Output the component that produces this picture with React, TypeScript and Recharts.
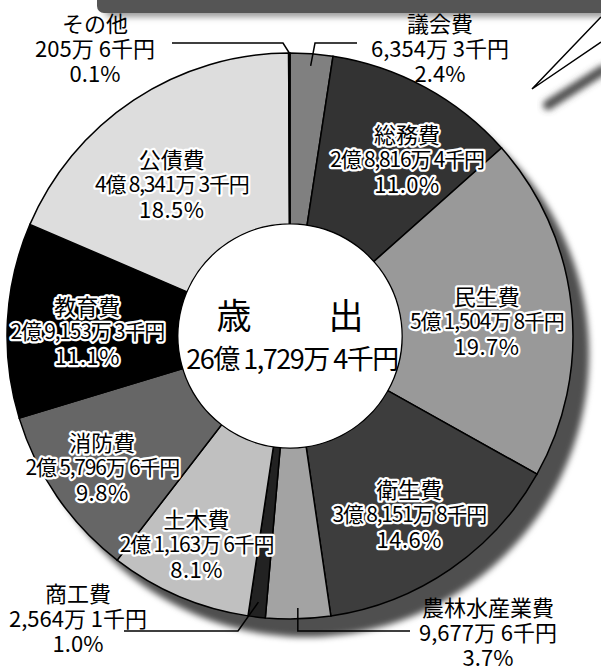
import React from 'react';
import { PieChart, Pie, Cell } from 'recharts';

// 歳出の内訳（単位：千円）
const categories = ['議会費', '総務費', '民生費', '衛生費', '農林水産業費', '商工費', '土木費', '消防費', '教育費', '公債費', 'その他'];
const amounts = [63543, 288164, 515048, 381518, 96776, 25641, 211636, 257966, 291533, 483413, 2056];
const percents = [2.4, 11.0, 19.7, 14.6, 3.7, 1.0, 8.1, 9.8, 11.1, 18.5, 0.1];
const centerTitle = ['歳', '出'];

const colors = ['#808080', '#333333', '#999999', '#3d3d3d', '#a3a3a3', '#222222', '#c0c0c0', '#666666', '#000000', '#dddddd', '#111111'];

const W = 601;
const H = 671;
const CX = 290;
const CY = 336;
const R_IN = 112;
const R_OUT = 283;
const RAD = Math.PI / 180;
const FONT = '"Noto Sans CJK JP", "Noto Sans", sans-serif';

const data = categories.map((name, i) => ({ name, value: amounts[i], pct: percents[i] }));
const total = amounts.reduce((a, b) => a + b, 0);

// 千円単位の数値を「○億 ○万 ○千円」に
const fmtYen = (v: number) => {
  const oku = Math.floor(v / 100000);
  const man = Math.floor((v % 100000) / 10);
  const sen = v % 10;
  return (oku ? `${oku}億 ` : '') + (man ? `${man.toLocaleString('ja-JP')}万 ` : '') + `${sen}千円`;
};

// 内側ラベルの微調整
const innerNudge: Record<string, [number, number]> = {
  '総務費': [19, 2],
  '民生費': [-7, 6],
  '衛生費': [3, 8],
  '土木費': [-13, 18],
  '消防費': [-19, 14],
  '教育費': [2, 5],
  '公債費': [-5, 18],
};

// 外側ラベル（引き出し線つき）
const outside: Record<string, { r: number; elbow: [number | null, number]; end: [number, number]; tx: number; ty: number }> = {
  'その他': { r: 283, elbow: [-7, -293], end: [-118, -293], tx: -195, ty: -314 },
  '議会費': { r: 271, elbow: [25, -293], end: [67, -293], tx: 150, ty: -314 },
  '商工費': { r: 268, elbow: [-52, 295], end: [-166, 295], tx: -212, ty: 256 },
  '農林水産業費': { r: 272, elbow: [null, 295], end: [120, 295], tx: 198, ty: 270 },
};

const lineStyle = [
  { fontSize: 22, letterSpacing: 0 },
  { fontSize: 21, letterSpacing: -1.2 },
  { fontSize: 22, letterSpacing: 0.5 },
];

const renderLabel = (props: any) => {
  const { cx, cy, midAngle, index } = props;
  const d = data[index];
  const lines = [d.name, fmtYen(d.value), `${d.pct.toFixed(1)}%`];
  const o = outside[d.name];
  if (o) {
    const sx = cx + o.r * Math.cos(-midAngle * RAD);
    const sy = cy + o.r * Math.sin(-midAngle * RAD);
    const ex = o.elbow[0] == null ? sx : cx + o.elbow[0];
    const ey = cy + o.elbow[1];
    const pts = `${sx},${sy} ${ex},${ey} ${cx + o.end[0]},${cy + o.end[1]}`;
    return (
      <g key={`lbl-${index}`}>
        <polyline points={pts} fill="none" stroke="#000" strokeWidth={1.5} />
        <text fontFamily={FONT} fontSize={22} fill="#000" textAnchor="middle" dominantBaseline="central">
          {lines.map((t, k) => (
            <tspan key={k} x={cx + o.tx} y={cy + o.ty + k * 25}>{t}</tspan>
          ))}
        </text>
      </g>
    );
  }
  const r = 205;
  const nudge = innerNudge[d.name] || [0, 0];
  const x = cx + r * Math.cos(-midAngle * RAD) + nudge[0];
  const y = cy + r * Math.sin(-midAngle * RAD) + nudge[1];
  return (
    <text key={`lbl-${index}`} fontFamily={FONT} fill="#000" stroke="#fff" strokeWidth={4.5}
      strokeLinejoin="round" paintOrder="stroke" textAnchor="middle" dominantBaseline="central">
      {lines.map((t, k) => (
        <tspan key={k} x={x} y={y + (k - 1) * 25} fontSize={lineStyle[k].fontSize} letterSpacing={lineStyle[k].letterSpacing}>{t}</tspan>
      ))}
    </text>
  );
};

const renderCenter = (props: any) => {
  const { cx, cy } = props;
  return (
    <g key="center">
      <text x={cx - 56} y={cy - 23} fontFamily={FONT} fontSize={35} textAnchor="middle" dominantBaseline="central" fill="#000">{centerTitle[0]}</text>
      <text x={cx + 56} y={cy - 23} fontFamily={FONT} fontSize={35} textAnchor="middle" dominantBaseline="central" fill="#000">{centerTitle[1]}</text>
      <text x={cx + 2} y={cy + 21} fontFamily={FONT} fontSize={27} letterSpacing={-1.5} textAnchor="middle" dominantBaseline="central" fill="#000">{fmtYen(total)}</text>
    </g>
  );
};

export default function App() {
  return (
    <div style={{ position: 'relative', width: W, height: H, background: '#fff' }}>
      <style>{`
        body { margin: 0; }
        .pie-shadow path { filter: blur(3px); }
      `}</style>
      {/* 上部の帯と吹き出し（飾り） */}
      <svg width={W} height={H} style={{ position: 'absolute', left: 0, top: 0 }}>
        <defs>
          <filter id="soft" x="-20%" y="-50%" width="140%" height="200%">
            <feGaussianBlur stdDeviation="3" />
          </filter>
        </defs>
        <rect x={104} y={-10} width={510} height={27} rx={8} fill="#9a9a9a" filter="url(#soft)" />
        <rect x={97} y={-10} width={510} height={23} rx={7} fill="#555555" />
        <line x1={548} y1={105} x2={603} y2={70} stroke="#4d4d4d" strokeWidth={10} strokeLinecap="round" filter="url(#soft)" />
        <polygon points="601,17 532,89 601,42" fill="#fff" />
        <polyline points="601,17 532,89 601,42" fill="none" stroke="#000" strokeWidth={1.5} />
      </svg>
      <div style={{ position: 'absolute', left: 0, top: 0 }}>
        <PieChart width={W} height={H} margin={{ top: 0, right: 0, bottom: 0, left: 0 }}>
          <Pie
            className="pie-shadow"
            data={[{ value: 1 }]}
            dataKey="value"
            cx={CX + 16}
            cy={CY + 18}
            outerRadius={R_OUT}
            innerRadius={0}
            fill="#4f4f4f"
            stroke="none"
            isAnimationActive={false}
          />
          <Pie
            data={data}
            dataKey="value"
            nameKey="name"
            cx={CX}
            cy={CY}
            innerRadius={R_IN}
            outerRadius={R_OUT}
            startAngle={90}
            endAngle={-270}
            stroke="#000"
            strokeWidth={1.5}
            label={renderLabel}
            labelLine={false}
            isAnimationActive={false}
          >
            {data.map((entry, i) => (
              <Cell key={`cell-${i}`} fill={colors[i]} />
            ))}
          </Pie>
          <Pie
            data={[{ value: 1 }]}
            dataKey="value"
            cx={CX}
            cy={CY}
            outerRadius={R_IN - 0.5}
            innerRadius={0}
            fill="#fff"
            stroke="none"
            label={renderCenter}
            labelLine={false}
            isAnimationActive={false}
          />
        </PieChart>
      </div>
    </div>
  );
}
